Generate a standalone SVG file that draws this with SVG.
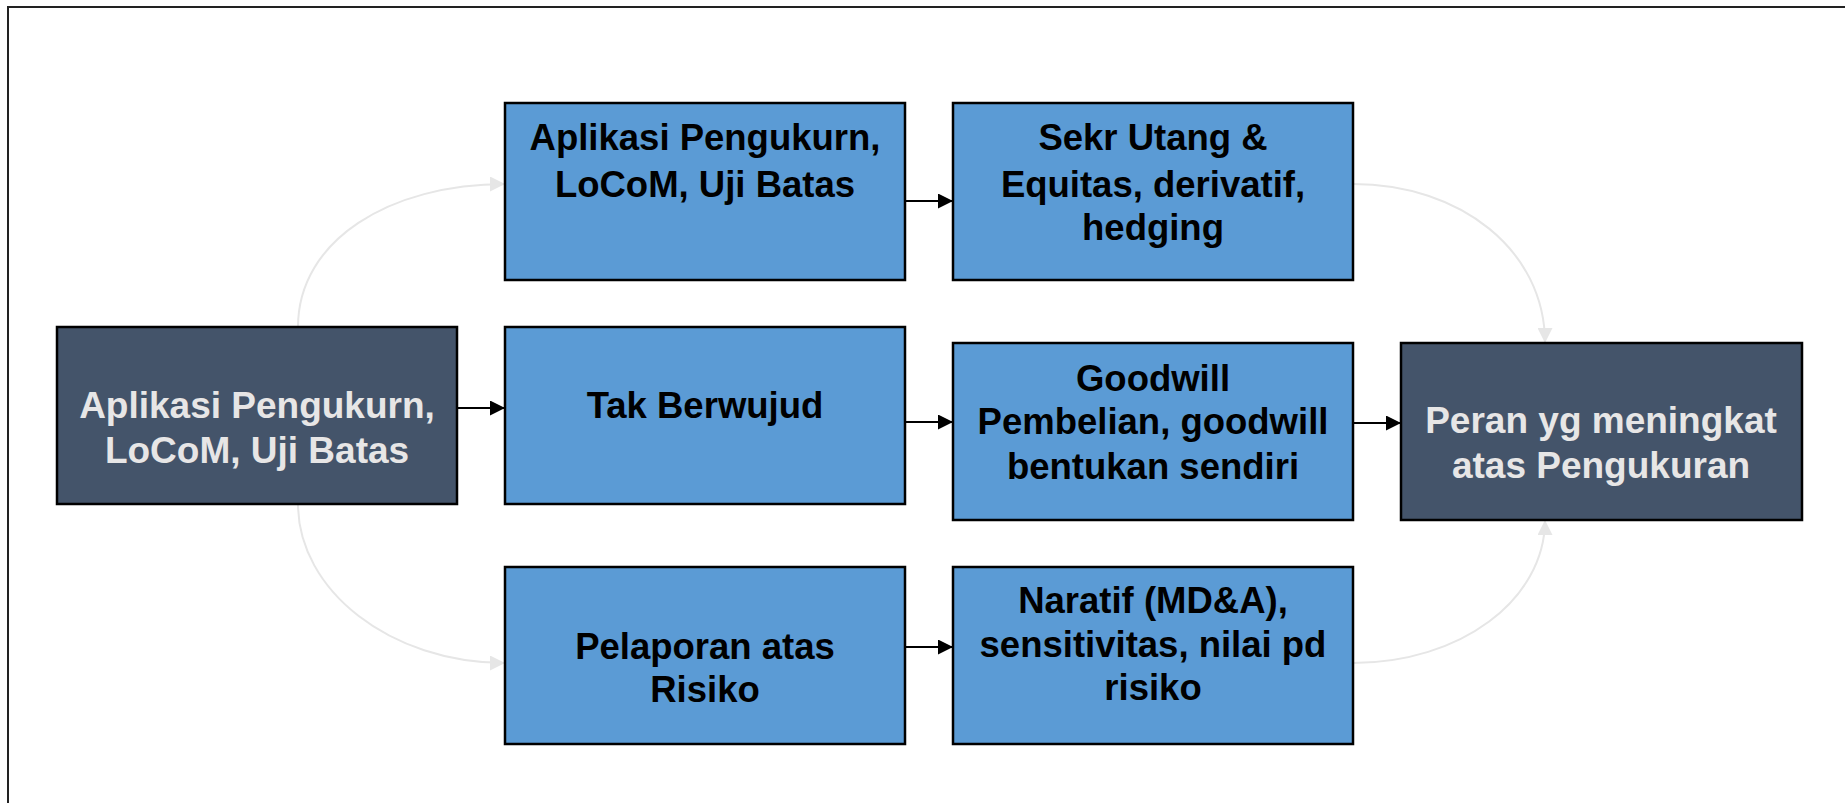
<svg xmlns="http://www.w3.org/2000/svg" width="1845" height="803" viewBox="0 0 1845 803">
<defs>
<style>
.dark{fill:#44546A;stroke:#000;stroke-width:2.5}
.blue{fill:#5B9BD5;stroke:#000;stroke-width:2.5}
.tl{font-family:"Liberation Sans",Arial,sans-serif;font-weight:bold;font-size:37px;fill:#E7E6E6;text-anchor:middle}
.tb{font-family:"Liberation Sans",Arial,sans-serif;font-weight:bold;font-size:36.5px;fill:#000;text-anchor:middle}
.conn{fill:none;stroke:#000;stroke-width:2}
.soft{fill:none;stroke:#E6E6E6;stroke-width:2}
</style>
<marker id="ab" viewBox="0 0 10 10" refX="10" refY="5" markerWidth="15" markerHeight="15" markerUnits="userSpaceOnUse" orient="auto">
<path d="M0,0 L10,5 L0,10 z" fill="#000"/>
</marker>
<marker id="ag" viewBox="0 0 10 10" refX="10" refY="5" markerWidth="15" markerHeight="15" markerUnits="userSpaceOnUse" orient="auto">
<path d="M0,0 L10,5 L0,10 z" fill="#E6E6E6"/>
</marker>
</defs>
<rect x="0" y="0" width="1845" height="803" fill="#fff"/>
<rect x="8" y="7" width="1850" height="810" fill="none" stroke="#222" stroke-width="2"/>

<g id="connectors">
<path class="conn" marker-end="url(#ab)" d="M457,408 L505,408"/>
<path class="conn" marker-end="url(#ab)" d="M905,201 L953,201"/>
<path class="conn" marker-end="url(#ab)" d="M905,422 L953,422"/>
<path class="conn" marker-end="url(#ab)" d="M1353,423 L1401,423"/>
<path class="conn" marker-end="url(#ab)" d="M905,647 L953,647"/>
<path class="soft" marker-end="url(#ag)" d="M298,327 C298,240 390,184 505,184"/>
<path class="soft" marker-end="url(#ag)" d="M298,504 C298,590 390,663 505,663"/>
<path class="soft" marker-end="url(#ag)" d="M1353,184 C1460,184 1545,250 1545,343"/>
<path class="soft" marker-end="url(#ag)" d="M1353,663 C1460,663 1545,600 1545,520"/>
</g>

<g id="node-left">
<rect class="dark" x="57" y="327" width="400" height="177"/>
<text class="tl" x="257" y="418">Aplikasi Pengukurn,</text>
<text class="tl" x="257" y="463">LoCoM, Uji Batas</text>
</g>
<g id="node-top1">
<rect class="blue" x="505" y="103" width="400" height="177"/>
<text class="tb" x="705" y="150">Aplikasi Pengukurn,</text>
<text class="tb" x="705" y="197">LoCoM, Uji Batas</text>
</g>
<g id="node-top2">
<rect class="blue" x="953" y="103" width="400" height="177"/>
<text class="tb" x="1153" y="150">Sekr Utang &amp;</text>
<text class="tb" x="1153" y="197">Equitas, derivatif,</text>
<text class="tb" x="1153" y="240">hedging</text>
</g>
<g id="node-mid1">
<rect class="blue" x="505" y="327" width="400" height="177"/>
<text class="tb" x="705" y="418">Tak Berwujud</text>
</g>
<g id="node-mid2">
<rect class="blue" x="953" y="343" width="400" height="177"/>
<text class="tb" x="1153" y="391">Goodwill</text>
<text class="tb" x="1153" y="434">Pembelian, goodwill</text>
<text class="tb" x="1153" y="479">bentukan sendiri</text>
</g>
<g id="node-bot1">
<rect class="blue" x="505" y="567" width="400" height="177"/>
<text class="tb" x="705" y="659">Pelaporan atas</text>
<text class="tb" x="705" y="702">Risiko</text>
</g>
<g id="node-bot2">
<rect class="blue" x="953" y="567" width="400" height="177"/>
<text class="tb" x="1153" y="613">Naratif (MD&amp;A),</text>
<text class="tb" x="1153" y="657">sensitivitas, nilai pd</text>
<text class="tb" x="1153" y="700">risiko</text>
</g>
<g id="node-right">
<rect class="dark" x="1401" y="343" width="401" height="177"/>
<text class="tl" x="1601" y="433">Peran yg meningkat</text>
<text class="tl" x="1601" y="478">atas Pengukuran</text>
</g>
</svg>
